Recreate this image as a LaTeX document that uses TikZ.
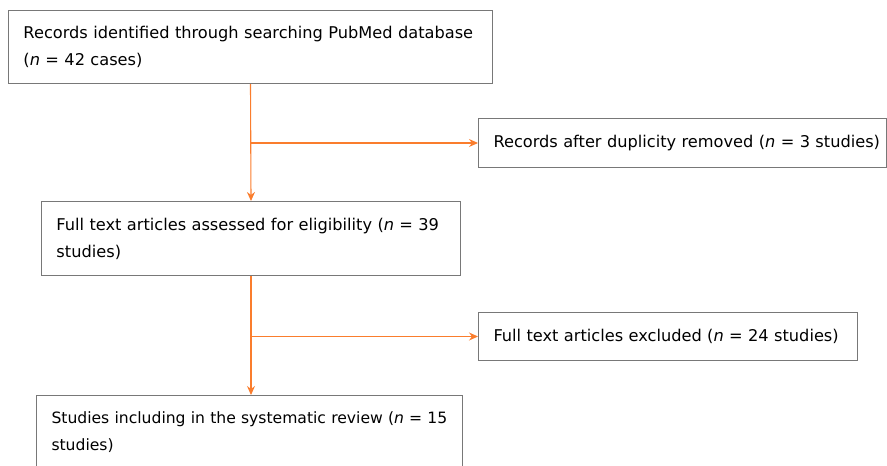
\documentclass[tikz,border=0pt]{standalone}
\usepackage{fontspec}
\setmainfont{DejaVu Sans}
\usetikzlibrary{arrows.meta}
\definecolor{floworange}{RGB}{250,125,45}
\definecolor{boxgray}{RGB}{120,120,120}
\newcommand{\boxindent}{\leftskip=15pt\relax\rightskip=-6pt plus 1fil\relax}
\begin{document}
\begin{tikzpicture}[
  x=1pt, y=-1pt,
  box/.style={draw=boxgray, line width=1pt, rectangle, inner xsep=0pt, inner ysep=0pt,
    align=left, font=\fontsize{16.2}{27}\selectfont, anchor=north west,
    execute at begin node=\boxindent},
  flow/.style={draw=floworange, line width=1.1pt, -{Stealth[length=9pt,width=8pt]}}
]
  \useasboundingbox (0,0) rectangle (887,466);

  % --- boxes ---
  \node[box, minimum height=73pt, text width=484pt] (search) at (8,10)
    {Records identified through searching PubMed database\\(\textit{n} = 42 cases)};
  \node[box, minimum height=49pt, text width=408pt] (dup) at (478,118)
    {Records after duplicity removed (\textit{n} = 3 studies)};
  \node[box, minimum height=74pt, text width=419pt] (fulltext) at (41,201)
    {Full text articles assessed for eligibility (\textit{n} = 39\\studies)};
  \node[box, minimum height=48pt, text width=379pt] (excl) at (478,312)
    {Full text articles excluded (\textit{n} = 24 studies)};
  \node[box, minimum height=74pt, text width=426pt, font=\fontsize{15.6}{27}\selectfont] (incl) at (36,395)
    {Studies including in the systematic review (\textit{n} = 15\\studies)};

  % --- connectors ---
  \draw[flow] (search.south) -- (fulltext.north);
  \draw[flow] (search.south |- dup.west) -- (dup.west);
  \draw[flow] (fulltext.south) -- (fulltext.south |- incl.north);
  \draw[flow] (fulltext.south |- excl.west) -- (excl.west);
\end{tikzpicture}
\end{document}
